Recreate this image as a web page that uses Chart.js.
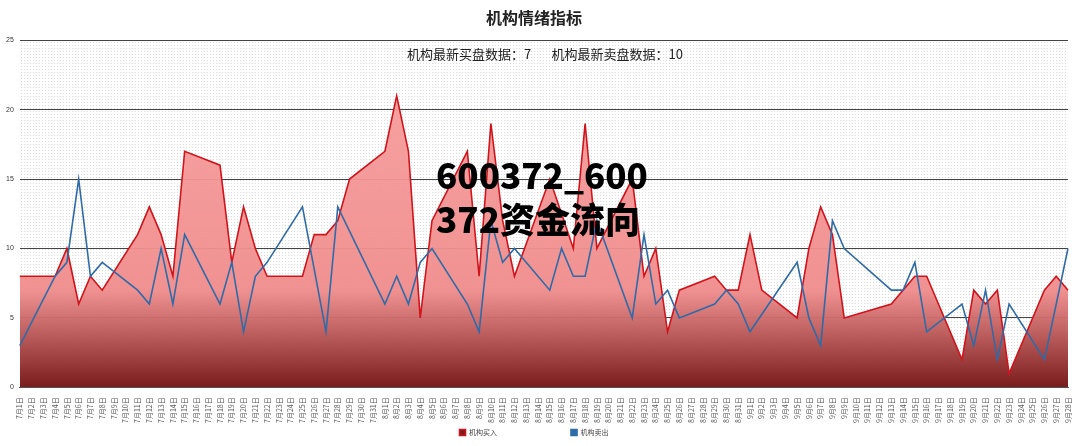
<!DOCTYPE html>
<html>
<head>
<meta charset="utf-8">
<script src="https://cdn.jsdelivr.net/npm/chart.js@4/dist/chart.umd.min.js"></script>
<style>
  body { margin: 0; background: #fff; font-family: "Noto Sans CJK SC", sans-serif; }
  #wrap { position: relative; width: 1080px; height: 446px; }
  #sub { position: absolute; left: 0; width: 1090px; top: 44px; text-align: center; font-size: 13px; color: #222; }
  #mark { position: absolute; left: 436px; top: 152px; font-size: 35px; font-weight: 900; line-height: 44px; color: #000; }
</style>
</head>
<body>
<div id="wrap">
  <canvas id="c" width="1080" height="446"></canvas>
  <div id="sub">机构最新买盘数据：7&nbsp;&nbsp;&nbsp;&nbsp;&nbsp;&nbsp;&nbsp;机构最新卖盘数据：10</div>
  <div id="mark">600372_600<br>372资金流向</div>
</div>
<script>
const monthDays = [[7, 31], [8, 31], [9, 28]];
const labels = [];
monthDays.forEach(([m, n]) => { for (let d = 1; d <= n; d++) labels.push(m + '月' + d + '日'); });

const buyValues = [
  8, null, null, 8, 10, 6, 8, 7, null, null,
  11, 13, 11, 8, 17, null, null, 16, 9, 13,
  10, 8, null, null, 8, 11, 11, 12, 15, null,
  null, 17, 21, 17, 5, 12, null, null, 17, 8,
  19, 12, 8, null, null, 15, null, 10, 19, 10,
  null, null, 15, 8, 10, 4, 7, null, null, 8,
  7, 7, 11, 7, null, null, 5, 10, 13, 11,
  5, null, null, null, 6, null, 8, 8, null, null,
  2, 7, 6, 7, 1, null, null, 7, 8, 7
];
const sellValues = [
  3, null, null, 8, 9, 15, 8, 9, null, null,
  7, 6, 10, 6, 11, null, null, 6, 9, 4,
  8, 9, null, null, 13, null, 4, 13, null, null,
  null, 6, 8, 6, 9, 10, null, null, 6, 4,
  12, 9, 10, null, null, 7, 10, 8, 8, 12,
  null, null, 5, 11, 6, 7, 5, null, null, 6,
  7, 6, 4, null, null, null, 9, 5, 3, 12,
  10, null, null, null, 7, 7, 9, 4, null, null,
  6, 3, 7, 2, 6, null, null, 2, null, 10
];
const yTicks = [0, 5, 10, 15, 20, 25];

function dotPattern(ctx) {
  const p = document.createElement('canvas');
  p.width = 3; p.height = 3;
  const pc = p.getContext('2d');
  pc.fillStyle = '#fff'; pc.fillRect(0, 0, 3, 3);
  pc.fillStyle = '#d8dadc'; pc.fillRect(0, 0, 1, 1);
  return ctx.createPattern(p, 'repeat');
}

const bgPlugin = {
  id: 'bg',
  beforeDraw(chart) {
    const a = chart.chartArea, ctx = chart.ctx;
    ctx.save();
    ctx.fillStyle = dotPattern(ctx);
    ctx.fillRect(a.left, a.top, a.right - a.left, a.bottom - a.top);
    ctx.restore();
  }
};

function redFill(c) {
  const a = c.chart.chartArea;
  if (!a) return '#f4a0a0';
  const g = c.chart.ctx.createLinearGradient(0, a.top, 0, a.bottom);
  g.addColorStop(0, 'rgba(248,160,160,0.95)');
  g.addColorStop(0.72, 'rgba(240,140,140,0.95)');
  g.addColorStop(1, '#7a1c1c');
  return g;
}

// spread the two legend entries apart like the original
function legendLabels(chart) {
  const items = Chart.defaults.plugins.legend.labels.generateLabels(chart);
  items.sort((a, b) => a.datasetIndex - b.datasetIndex);
  items[0].text = items[0].text + '\u3000'.repeat(10);
  return items;
}

new Chart(document.getElementById('c').getContext('2d'), {
  type: 'line',
  data: {
    labels: labels,
    datasets: [
      {
        label: '机构买入', data: buyValues, order: 1,
        borderColor: '#d0141c', backgroundColor: redFill,
        fill: 'origin', borderWidth: 1.6, pointRadius: 0, spanGaps: true, tension: 0,
      },
      {
        label: '机构卖出', data: sellValues, order: 0,
        borderColor: '#2e6ba8', backgroundColor: '#2e6ba8',
        fill: false, borderWidth: 1.6, pointRadius: 0, spanGaps: true, tension: 0,
      }
    ]
  },
  options: {
    responsive: false, animation: false,
    layout: { padding: { left: 0, right: 12, top: 0, bottom: 0 } },
    plugins: {
      title: { display: true, text: '机构情绪指标', color: '#222',
               font: { size: 16, weight: 'bold', family: 'Noto Sans CJK SC' }, padding: { top: 8, bottom: 13 } },
      legend: { position: 'bottom',
                labels: { boxWidth: 6, boxHeight: 6, padding: 4, color: '#444', font: { size: 7, family: 'Noto Sans CJK SC' },
                          generateLabels: legendLabels } },
      tooltip: { enabled: false }
    },
    scales: {
      x: {
        grid: { display: false },
        border: { color: '#555' },
        ticks: { color: '#555', autoSkip: false, maxRotation: 90, minRotation: 90, font: { size: 7, family: 'Noto Sans CJK SC' }, padding: 2 }
      },
      y: {
        min: 0, max: 25,
        afterBuildTicks: ax => { ax.ticks = yTicks.map(v => ({ value: v })); },
        grid: { color: '#444', lineWidth: 1, drawTicks: false },
        border: { display: false },
        ticks: { color: '#333', font: { size: 7 }, padding: 6 }
      }
    }
  },
  plugins: [bgPlugin]
});
</script>
</body>
</html>
